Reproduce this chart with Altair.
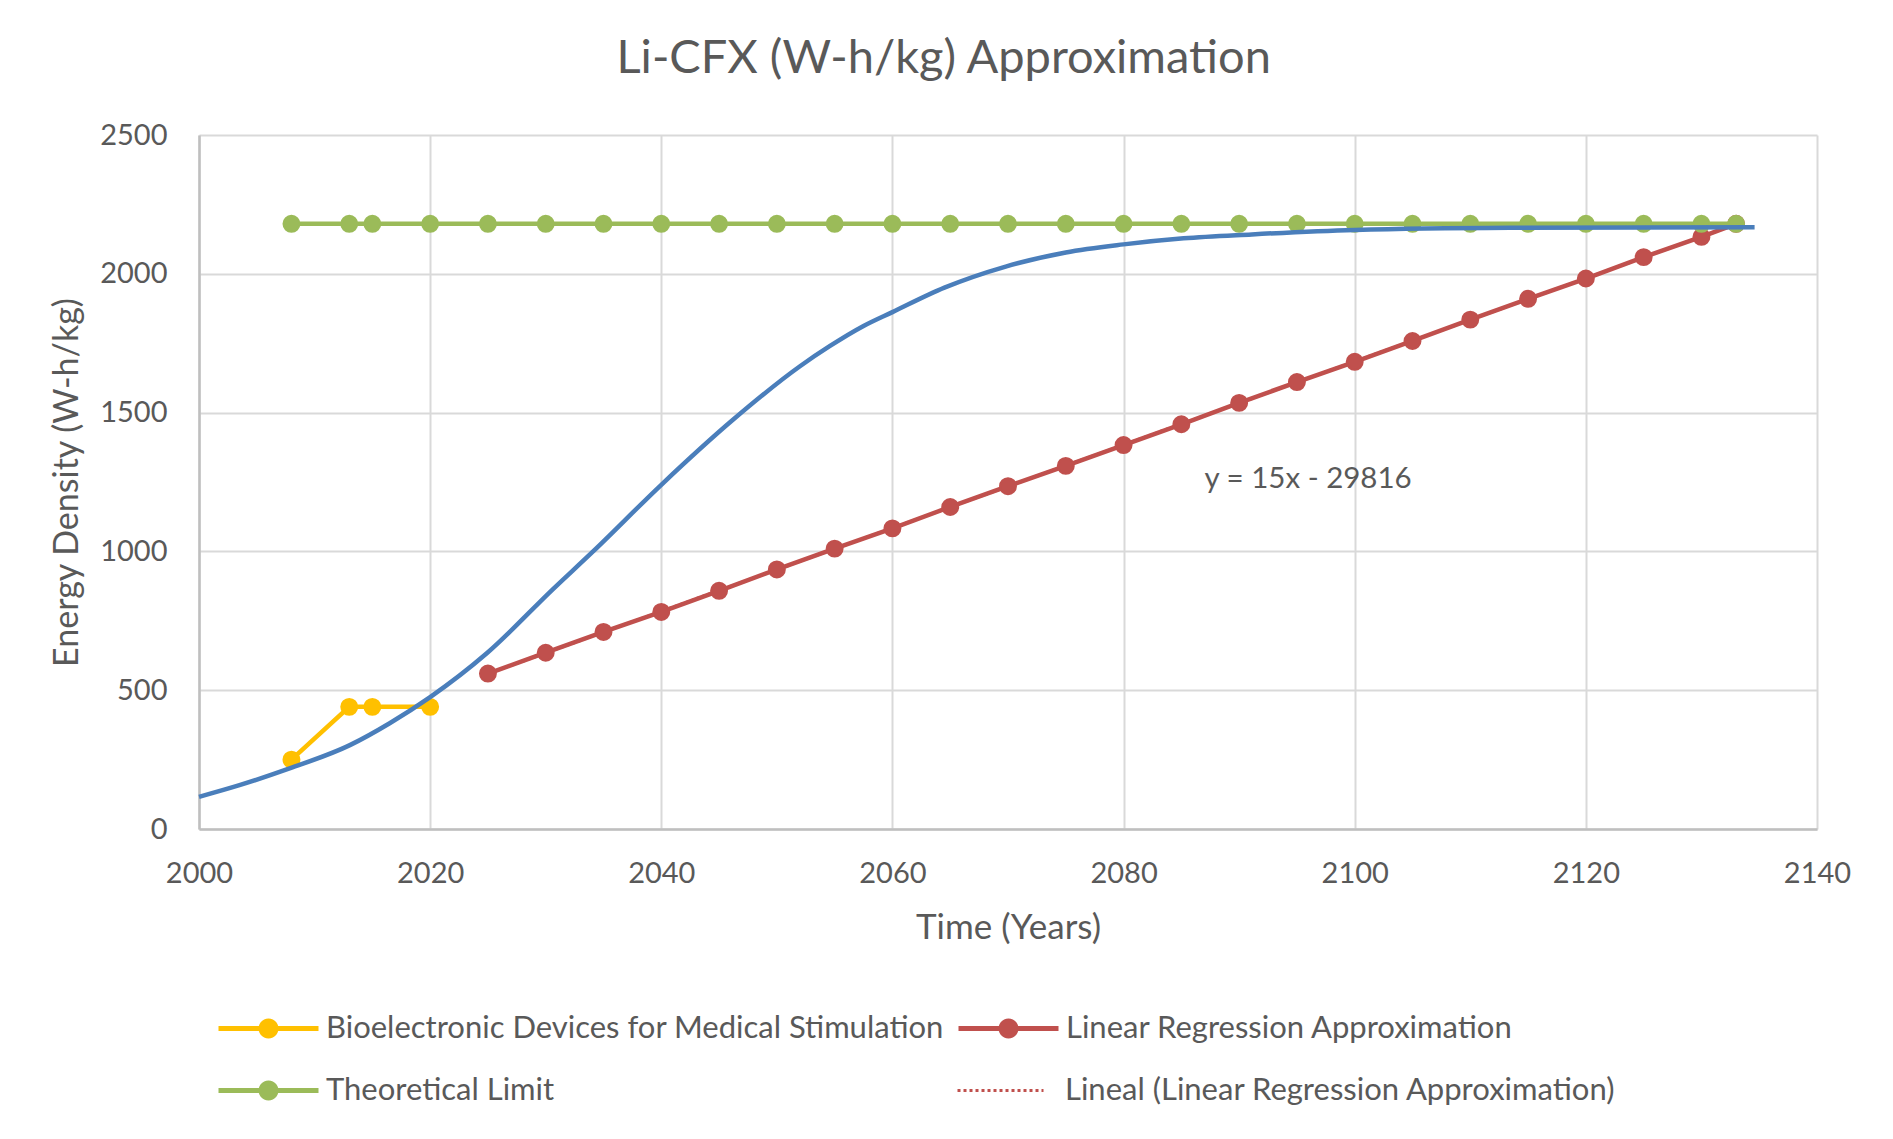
import math
import altair as alt
import pandas as pd

# ---------------- data ----------------
BIO = "Bioelectronic Devices for Medical Stimulation"
LIN = "Linear Regression Approximation"
LIM = "Theoretical Limit"
TREND = "Lineal (Linear Regression Approximation)"

series_names = [BIO, LIN, LIM]
series_colors = ["#ffc000", "#c0504d", "#9bbb59"]
trend_color = "#c0504d"

bio_years = [2008, 2013, 2015, 2020]
bio_values = [250, 440, 440, 440]

lin_years = [2025, 2030, 2035, 2040, 2045, 2050, 2055, 2060, 2065, 2070, 2075, 2080,
             2085, 2090, 2095, 2100, 2105, 2110, 2115, 2120, 2125, 2130, 2133]
lin_values = [560, 635, 710, 782, 858, 935, 1010, 1083, 1160, 1235, 1308, 1383,
              1458, 1535, 1610, 1683, 1758, 1835, 1910, 1983, 2060, 2133, 2180]

lim_years = [2008, 2013, 2015, 2020, 2025, 2030, 2035, 2040, 2045, 2050, 2055, 2060,
             2065, 2070, 2075, 2080, 2085, 2090, 2095, 2100, 2105, 2110, 2115, 2120,
             2125, 2130, 2133]
lim_values = [2180, 2180, 2180, 2180, 2180, 2180, 2180, 2180, 2180, 2180, 2180, 2180,
              2180, 2180, 2180, 2180, 2180, 2180, 2180, 2180, 2180, 2180, 2180, 2180,
              2180, 2180, 2180]

curve_years = [2000, 2003.5, 2007.9, 2013.1, 2016.5, 2020, 2024.9, 2030.7, 2034.1, 2040,
               2046.2, 2052, 2054.6, 2057.5, 2060, 2064.5, 2069.8, 2075, 2080, 2085.2,
               2091.1, 2100, 2113.4, 2134.6]
curve_values = [116, 158, 219, 303, 381, 475, 633, 867, 1000, 1240,
                1474, 1667, 1740, 1812, 1862, 1950, 2026, 2077, 2106, 2128,
                2142, 2158, 2166, 2168]

eq_text = ["y = 15x - 29816"]
eq_x = [2087]
eq_y = [1261]

x_ticks = [2000, 2020, 2040, 2060, 2080, 2100, 2120, 2140]
y_ticks = [0, 500, 1000, 1500, 2000, 2500]

# ---------------- tables ----------------
df = pd.DataFrame({
    "year": bio_years + lin_years + lim_years,
    "value": bio_values + lin_values + lim_values,
    "series": [BIO] * len(bio_years) + [LIN] * len(lin_years) + [LIM] * len(lim_years),
})
curve_df = pd.DataFrame({"year": curve_years, "value": curve_values})
eq_df = pd.DataFrame({"year": eq_x, "value": eq_y, "label": eq_text})

FONT = "Lato"
GRAY = "#595959"


def circle_path(cx, r, n=28):
    pts = [(cx + r * math.cos(2 * math.pi * k / n), r * math.sin(2 * math.pi * k / n)) for k in range(n)]
    return "M" + "L".join(f"{x:.3f},{y:.3f}" for x, y in pts) + "Z"


marker_shape = "M-1,0L9,0" + circle_path(4, 0.75)
dotted_shape = "M-1,0L7.6,0"

common_legend = dict(
    title=None,
    orient="none",
    padding=0,
    labelFont=FONT,
    labelFontSize=31,
    labelColor=GRAY,
    labelLimit=2000,
    labelOffset=82,
    symbolSize=400,
    symbolOpacity=1,
)

legend_main = alt.Legend(
    legendX=14,
    legendY=878,
    columns=2,
    direction="horizontal",
    symbolStrokeWidth=5,
    symbolType=marker_shape,
    rowPadding=27,
    columnPadding=3,
    **common_legend,
)

legend_trend = alt.Legend(
    legendX=753,
    legendY=940,
    symbolStrokeWidth=3,
    symbolType=dotted_shape,
    symbolStrokeColor=trend_color,
    symbolFillColor="transparent",
    symbolDash=[3, 3],
    **common_legend,
)

X = alt.X(
    "year:Q",
    scale=alt.Scale(domain=[2000, 2140], nice=False, zero=False),
    axis=alt.Axis(
        title="Time (Years)", values=x_ticks, format="d", labelFlush=False, labelOverlap=False,
        labelPadding=30, titlePadding=22,
    ),
)
Y = alt.Y(
    "value:Q",
    scale=alt.Scale(domain=[0, 2500], nice=False),
    axis=alt.Axis(
        title="Energy Density (W-h/kg)", values=y_ticks, format="d", labelOverlap=False,
        labelPadding=32, titlePadding=15, titleFontSize=34,
    ),
)
SC = alt.Scale(domain=series_names, range=series_colors)
STROKE = alt.Stroke("series:N", scale=SC, legend=legend_main)
FILL = alt.Fill("series:N", scale=SC, legend=legend_main)

base = alt.Chart(df)
layers = []
for name in series_names:
    sub = base.transform_filter(alt.datum.series == name)
    if name == LIN:
        trend = (
            base.transform_filter(alt.datum.series == LIN)
            .transform_regression("year", "value")
            .transform_calculate(kind=f"'{TREND}'")
            .mark_line(strokeWidth=3, color=trend_color)
            .encode(
                x=X, y=Y,
                strokeDash=alt.StrokeDash(
                    "kind:N",
                    scale=alt.Scale(domain=[TREND], range=[[3, 3]]),
                    legend=legend_trend,
                ),
            )
        )
        layers.append(trend)
    layers.append(sub.mark_line(strokeWidth=4.5).encode(x=X, y=Y, stroke=STROKE))
    layers.append(
        sub.mark_point(filled=True, size=254, opacity=1, strokeWidth=2).encode(
            x=X, y=Y, fill=FILL, stroke=STROKE
        )
    )

curve = alt.Chart(curve_df).mark_line(
    strokeWidth=4.5, color="#4a7ebb", interpolate="monotone"
).encode(x=X, y=Y)

eq = alt.Chart(eq_df).mark_text(
    align="left", baseline="middle", font=FONT, fontSize=29.5, color=GRAY
).encode(x=X, y=Y, text="label:N")

chart = (
    alt.layer(*layers, curve, eq)
    .properties(
        width=1618,
        height=694,
        title=alt.TitleParams(
            "Li-CFX (W-h/kg) Approximation", font=FONT, fontSize=47, fontWeight="normal",
            color=GRAY, anchor="middle", frame="bounds", offset=38, dx=-7,
        ),
        autosize=alt.AutoSizeParams(type="none"),
        padding={"left": 191, "top": 127, "right": 68, "bottom": 290},
    )
    .configure_view(stroke=None)
    .configure_axis(
        labelFont=FONT, labelFontSize=29, labelColor=GRAY,
        titleFont=FONT, titleFontSize=35, titleColor=GRAY, titleFontWeight="normal",
        ticks=False, domainColor="#bfbfbf", domainWidth=2.5,
        gridColor="#d9d9d9", gridWidth=2,
    )
)

chart.save("out.html", embed_options={"renderer": "svg", "actions": False})
